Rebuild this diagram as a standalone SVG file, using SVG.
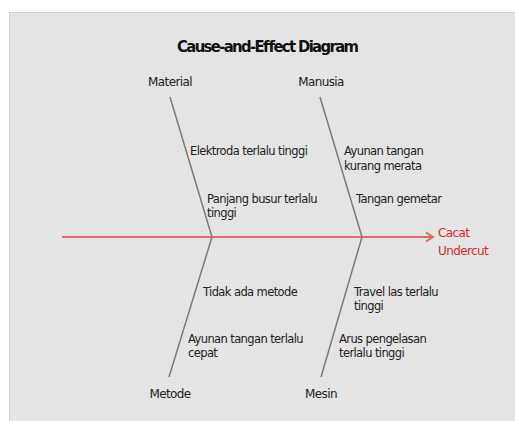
<svg xmlns="http://www.w3.org/2000/svg" width="515" height="421" viewBox="0 0 515 421">
  <style>
    .title { font-family: "DejaVu Sans Condensed", "DejaVu Sans", sans-serif; font-stretch: condensed; font-weight: bold; font-size: 16.5px; fill: #111; }
    .cat { font-family: "DejaVu Sans", sans-serif; font-size: 12px; fill: #222; letter-spacing: -0.6px; }
    .cause { font-family: "DejaVu Sans", sans-serif; font-size: 11.5px; fill: #222; letter-spacing: -0.6px; }
    .effect { font-family: "DejaVu Sans", sans-serif; font-size: 12px; fill: #d42a2a; letter-spacing: -0.6px; }
    .bone { stroke: #7c7c7c; stroke-width: 1.5; fill: none; }
    .spine { stroke: #e26a6a; stroke-width: 2; fill: none; }
  </style>

  <!-- canvas -->
  <rect x="0" y="0" width="515" height="421" fill="#ffffff"/>
  <rect x="9" y="12" width="506" height="409" fill="#e4e4e4"/>
  <line x1="9" y1="12.5" x2="515" y2="12.5" stroke="#d2d2d2" stroke-width="1"/>
  <line x1="9.5" y1="12" x2="9.5" y2="421" stroke="#d2d2d2" stroke-width="1"/>

  <text class="title" x="268" y="52" text-anchor="middle" textLength="182" lengthAdjust="spacing">Cause-and-Effect Diagram</text>

  <!-- connectors: spine and bones -->
  <g id="connectors">
    <line class="spine" x1="62" y1="237" x2="433" y2="237"/>
    <polyline class="spine" points="426,232.5 433,237 426,241.5"/>
    <line class="bone" x1="170" y1="97" x2="212" y2="237"/>
    <line class="bone" x1="212" y1="237" x2="169" y2="377"/>
    <line class="bone" x1="320" y1="97" x2="362" y2="237"/>
    <line class="bone" x1="362" y1="237" x2="321" y2="377"/>
  </g>

  <g id="effect">
    <text class="effect" x="438" y="237">Cacat</text>
    <text class="effect" x="438" y="255">Undercut</text>
  </g>

  <g id="material">
    <text class="cat" x="170" y="86" text-anchor="middle">Material</text>
    <text class="cause" x="190" y="155">Elektroda terlalu tinggi</text>
    <text class="cause" x="207" y="203">Panjang busur terlalu</text>
    <text class="cause" x="207" y="217">tinggi</text>
  </g>

  <g id="manusia">
    <text class="cat" x="321" y="86" text-anchor="middle">Manusia</text>
    <text class="cause" x="344" y="155">Ayunan tangan</text>
    <text class="cause" x="344" y="170">kurang merata</text>
    <text class="cause" x="356" y="203">Tangan gemetar</text>
  </g>

  <g id="metode">
    <text class="cat" x="170" y="398" text-anchor="middle">Metode</text>
    <text class="cause" x="203" y="296">Tidak ada metode</text>
    <text class="cause" x="188" y="343">Ayunan tangan terlalu</text>
    <text class="cause" x="188" y="357">cepat</text>
  </g>

  <g id="mesin">
    <text class="cat" x="321" y="398" text-anchor="middle">Mesin</text>
    <text class="cause" x="354" y="296">Travel las terlalu</text>
    <text class="cause" x="354" y="310">tinggi</text>
    <text class="cause" x="339" y="343">Arus pengelasan</text>
    <text class="cause" x="339" y="357">terlalu tinggi</text>
  </g>
</svg>
